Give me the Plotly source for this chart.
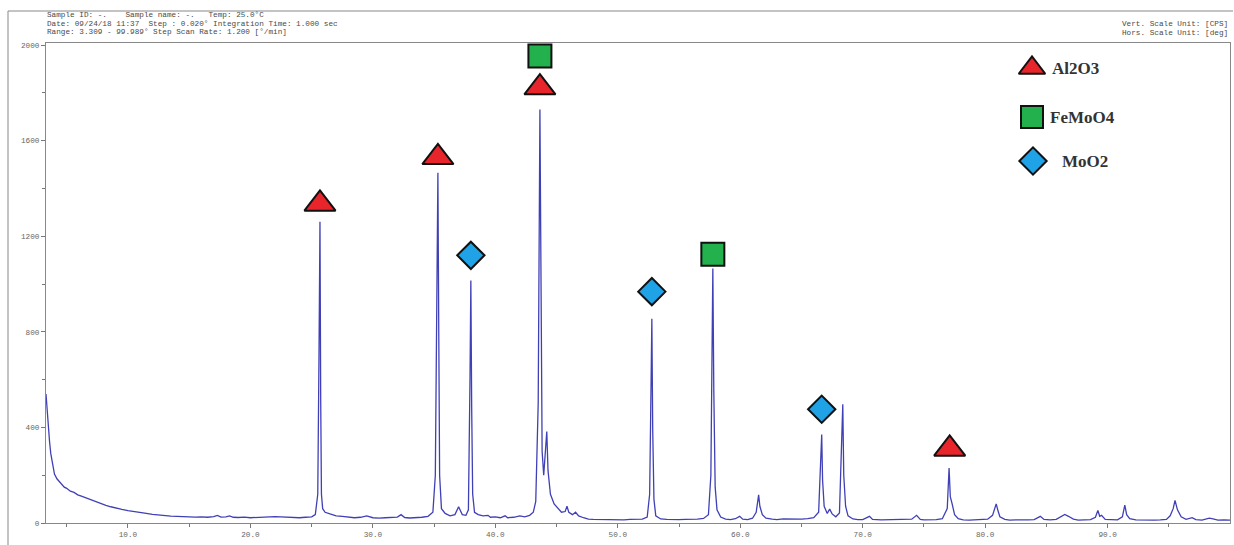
import plotly.graph_objects as go

# ---------------- data ----------------
two_theta = [
    3.309, 3.4, 3.5, 3.6, 3.7, 3.8, 3.9, 4.0, 4.2, 4.4, 4.6, 4.8, 5.0, 5.3, 5.6, 5.9, 6.2, 6.6, 7.0, 7.4,
    7.8, 8.2, 8.6, 9.0, 9.5, 10.0, 10.5, 11.0, 11.5, 12.0, 12.5, 13.0, 13.5, 14.0, 14.5, 15.0, 15.5, 16.0,
    16.5, 17.0, 17.3, 17.6, 18.0, 18.3, 18.6, 19.0, 19.5, 20.0, 20.5, 21.0, 21.5, 22.0, 22.5, 23.0, 23.5,
    24.0, 24.5, 25.0, 25.3, 25.5, 25.6, 25.68, 25.74, 25.8, 25.9, 26.1, 26.5, 27.0, 27.5, 28.0, 28.5, 29.0,
    29.5, 30.0, 30.5, 31.0, 31.5, 32.0, 32.3, 32.6, 33.0, 33.5, 34.0, 34.5, 34.9, 35.1, 35.22, 35.31, 35.38,
    35.45, 35.6, 35.9, 36.3, 36.7, 37.0, 37.3, 37.6, 37.8, 37.93, 38.0, 38.07, 38.15, 38.3, 38.6, 39.0, 39.4,
    39.6, 40.0, 40.4, 40.8, 41.0, 41.5, 42.0, 42.4, 42.8, 43.1, 43.3, 43.5, 43.64, 43.72, 43.82, 43.95, 44.1,
    44.2, 44.3, 44.5, 44.8, 45.1, 45.4, 45.7, 45.85, 46.0, 46.3, 46.55, 46.8, 47.2, 47.6, 48.0, 48.5, 49.0,
    49.5, 50.0, 50.5, 51.0, 51.5, 52.0, 52.4, 52.6, 52.72, 52.78, 52.85, 52.95, 53.1, 53.5, 54.0, 54.5, 55.0,
    55.5, 56.0, 56.5, 57.0, 57.4, 57.6, 57.7, 57.76, 57.84, 57.95, 58.1, 58.4, 58.8, 59.2, 59.6, 59.95, 60.2,
    60.6, 61.0, 61.3, 61.5, 61.6, 61.8, 62.1, 62.6, 63.0, 63.5, 64.0, 64.5, 65.0, 65.5, 66.0, 66.4, 66.55,
    66.65, 66.72, 66.85, 67.1, 67.3, 67.5, 67.8, 68.1, 68.25, 68.37, 68.45, 68.6, 68.8, 69.2, 69.6, 70.0,
    70.55, 70.8, 71.5, 72.0, 72.5, 73.0, 73.5, 74.0, 74.4, 74.7, 75.0, 75.5, 76.0, 76.5, 76.9, 77.05, 77.15,
    77.3, 77.5, 77.8, 78.2, 78.7, 79.2, 79.6, 80.2, 80.6, 80.9, 81.05, 81.2, 81.6, 82.0, 82.5, 83.0, 83.5,
    84.0, 84.5, 84.8, 85.3, 85.8, 86.5, 86.8, 87.2, 87.6, 88.0, 88.6, 89.0, 89.2, 89.35, 89.5, 89.8, 90.3,
    90.8, 91.2, 91.4, 91.55, 91.8, 92.3, 92.8, 93.3, 93.8, 94.3, 94.8, 95.1, 95.35, 95.5, 95.7, 96.0, 96.4,
    96.9, 97.2, 97.7, 98.3, 98.6, 99.0, 99.5, 99.989,
]
counts = [
    540, 470, 400, 340, 290, 255, 228, 205, 185, 172, 160, 150, 145, 133, 128, 118, 112, 104, 95, 88,
    80, 74, 68, 62, 57, 52, 47, 42, 40, 36, 33, 31, 29, 28, 26, 27, 25, 26,
    24, 27, 32, 25, 26, 30, 24, 23, 25, 22, 24, 26, 28, 27, 26, 24, 23,
    22, 24, 26, 35, 120, 700, 1260, 520, 120, 60, 45, 38, 30, 28, 25, 22, 24,
    30, 22, 20, 22, 23, 25, 35, 23, 21, 22, 24, 28, 45, 200, 900, 1465, 800,
    200, 60, 40, 30, 35, 68, 35, 32, 55, 600, 1015, 475, 120, 45, 35, 30, 32,
    24, 26, 22, 30, 22, 24, 30, 26, 32, 45, 90, 500, 1730, 1070, 300, 200, 330,
    383, 220, 120, 80, 60, 45, 48, 70, 45, 35, 45, 30, 22, 16, 15, 14, 15,
    13, 14, 13, 15, 14, 16, 25, 120, 600, 855, 390, 100, 30, 17, 15, 13, 14,
    15, 14, 16, 19, 35, 200, 800, 1065, 550, 150, 55, 25, 16, 14, 18, 28, 16,
    14, 20, 45, 118, 70, 35, 20, 16, 14, 17, 16, 14, 16, 18, 22, 45, 250,
    370, 180, 70, 40, 58, 38, 26, 42, 300, 497, 200, 70, 30, 17, 14, 14,
    28, 15, 13, 14, 12, 13, 14, 16, 32, 15, 13, 12, 14, 18, 60, 230, 110,
    80, 35, 18, 13, 12, 14, 13, 16, 32, 80, 50, 26, 15, 12, 13, 12, 13,
    14, 28, 15, 13, 15, 36, 28, 16, 12, 13, 14, 24, 52, 28, 32, 15, 13,
    13, 26, 75, 35, 18, 13, 12, 13, 12, 13, 15, 30, 60, 95, 55, 26, 15,
    22, 14, 12, 20, 17, 12, 13, 12,
]

phase_names = ["Al2O3", "FeMoO4", "MoO2"]
phase_symbols = ["triangle-up", "square", "diamond"]
phase_colors = ["#e8252b", "#22b14c", "#1fa2e6"]
phase_sizes = [27, 23, 21]
phase_peaks = [[25.68, 35.31, 43.64, 77.1], [43.64, 57.76], [38.0, 52.78, 66.65]]
phase_label_cps = [[1335, 1530, 1822, 310], [1954, 1124], [1120, 968, 476]]

x_ticks = [10, 20, 30, 40, 50, 60, 70, 80, 90]
y_ticks = [0, 400, 800, 1200, 1600, 2000]

header_left = [
    "Sample ID: -.    Sample name: -.   Temp: 25.0°C",
    "Date: 09/24/18 11:37  Step : 0.020° Integration Time: 1.000 sec",
    "Range: 3.309 - 99.989° Step Scan Rate: 1.200 [°/min]",
]
header_right = ["Vert. Scale Unit: [CPS]", "Hors. Scale Unit: [deg]"]

# ---------------- figure ----------------
W, H = 1234, 545
L, R, T, B = 46, 4, 43, 22
pw, ph = W - L - R, H - T - B

def px_x(px):
    return (px - L) / pw

def px_y(py):
    return (H - B - py) / ph

fig = go.Figure()
fig.add_trace(go.Scatter(
    x=two_theta, y=counts, mode="lines",
    line=dict(color="#4040b6", width=1.3),
    showlegend=False, hoverinfo="x+y",
))

for name, sym, col, sz, pk, lab in zip(phase_names, phase_symbols, phase_colors,
                                       phase_sizes, phase_peaks, phase_label_cps):
    fig.add_trace(go.Scatter(
        x=pk, y=lab, mode="markers", name=name,
        marker=dict(symbol=sym, color=col, size=sz, line=dict(color="#111111", width=2)),
        showlegend=False,
    ))

# hand-drawn style legend on an overlay axis (0..1 in both directions)
leg_y = [px_y(68), px_y(117), px_y(161)]
leg_x = [px_x(1032), px_x(1032), px_x(1033)]
leg_text_x = [px_x(1050), px_x(1048), px_x(1060)]
for i, (name, sym, col) in enumerate(zip(phase_names, phase_symbols, phase_colors)):
    fig.add_trace(go.Scatter(
        x=[leg_x[i]], y=[leg_y[i]], mode="markers", xaxis="x2", yaxis="y2",
        marker=dict(symbol=sym, color=col, size=[23, 22, 21][i], line=dict(color="#111111", width=2)),
        showlegend=False, hoverinfo="skip",
    ))
    fig.add_annotation(
        x=leg_text_x[i], y=leg_y[i], xref="paper", yref="paper", text=name,
        showarrow=False, xanchor="left", yanchor="middle",
        font=dict(family="Liberation Serif", size=17, color="#333333", weight="bold"),
    )

mono = dict(family="Liberation Mono", size=7.7, color="#4a4a4a")
for i, line in enumerate(header_left):
    fig.add_annotation(x=px_x(45), y=px_y(15 + 8.5 * i), xref="paper", yref="paper", text=line,
                       showarrow=False, xanchor="left", yanchor="middle", font=mono)
for i, line in enumerate(header_right):
    fig.add_annotation(x=px_x(1230), y=px_y(24 + 9 * i), xref="paper", yref="paper", text=line,
                       showarrow=False, xanchor="right", yanchor="middle", font=mono)

# outer frame lines
fig.add_shape(type="line", xref="paper", yref="paper", x0=px_x(8), x1=px_x(1233),
              y0=px_y(11), y1=px_y(11), line=dict(color="#888888", width=1))
fig.add_shape(type="line", xref="paper", yref="paper", x0=px_x(8), x1=px_x(8),
              y0=px_y(11), y1=px_y(545), line=dict(color="#888888", width=1))

axis_font = dict(family="Liberation Mono", size=7.7, color="#666666")
fig.update_layout(
    width=W, height=H,
    margin=dict(l=L, r=R, t=T, b=B, pad=0),
    paper_bgcolor="white", plot_bgcolor="white",
    xaxis=dict(
        range=[3.309, 99.989], tickvals=x_ticks, ticktext=[f"{v:.1f}" for v in x_ticks],
        ticks="outside", ticklen=4, tickcolor="#777777", showgrid=False, zeroline=False,
        showline=True, linecolor="#888888", linewidth=1, mirror=True,
        tickfont=axis_font,
        minor=dict(tickvals=[5, 15, 25, 35, 45, 55, 65, 75, 85, 95], ticks="outside",
                   ticklen=3, tickcolor="#777777"),
    ),
    yaxis=dict(
        range=[0, (H - B - T) / ((H - B - 45) / 2000)], tickvals=y_ticks,
        ticks="outside", ticklen=4, tickcolor="#777777", showgrid=False, zeroline=False,
        showline=True, linecolor="#888888", linewidth=1, mirror=True,
        tickfont=axis_font,
        minor=dict(tickvals=[200, 600, 1000, 1400, 1800], ticks="outside", ticklen=3,
                   tickcolor="#777777"),
    ),
    xaxis2=dict(range=[0, 1], overlaying="x", visible=False, fixedrange=True),
    yaxis2=dict(range=[0, 1], overlaying="y", visible=False, fixedrange=True),
)

fig.write_html("out.html")
